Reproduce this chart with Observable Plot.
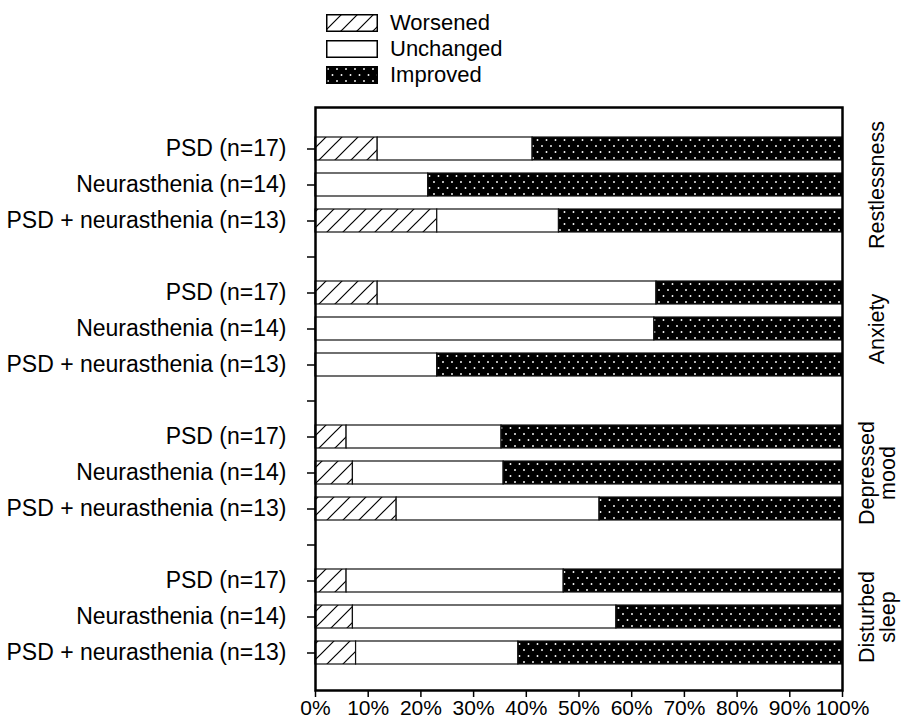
<!DOCTYPE html>
<html><head><meta charset="utf-8">
<script src="https://cdn.jsdelivr.net/npm/d3@7"></script>
<script src="https://cdn.jsdelivr.net/npm/@observablehq/plot@0.6"></script>
<style>
body{margin:0;background:#fff;font-family:"Liberation Sans",Arial,sans-serif;}
#legend{position:relative;height:95px;width:910px;}
.item{position:absolute;left:326px;display:flex;align-items:center;height:17px;font-size:22px;color:#000;white-space:nowrap;}
.item svg{margin-right:12px;display:block;}
</style></head><body>
<svg width="0" height="0" style="position:absolute">
<defs>
<pattern id="hatch" patternUnits="userSpaceOnUse" width="16" height="16">
<rect width="16" height="16" fill="white"/>
<path d="M-4,4 L4,-4 M0,16 L16,0 M12,20 L20,12" stroke="black" stroke-width="1.2"/>
</pattern>
<pattern id="dots" patternUnits="userSpaceOnUse" width="9" height="12">
<rect width="9" height="12" fill="black"/>
<circle cx="2" cy="3" r="0.95" fill="white"/>
<circle cx="6.5" cy="9" r="0.95" fill="white"/>
</pattern>
</defs></svg>
<div id="legend"></div>
<div id="chart"></div>
<script>
// ---- data ----
const symptoms = ["Restlessness", "Anxiety", "Depressed mood", "Disturbed sleep"];
const symptomLabels = ["Restlessness", "Anxiety", "Depressed\nmood", "Disturbed\nsleep"];
const groups = ["PSD (n=17)", "Neurasthenia (n=14)", "PSD + neurasthenia (n=13)"];
const statuses = ["Worsened", "Unchanged", "Improved"];
// percentages per symptom (rows) and group (columns)
const worsened  = [[11.8, 0.0, 23.1], [11.8, 0.0, 0.0], [5.9, 7.1, 15.4], [5.9, 7.1, 7.7]];
const unchanged = [[29.4, 21.4, 23.1], [52.9, 64.3, 23.1], [29.4, 28.6, 38.5], [41.2, 50.0, 30.8]];
const improved  = [[58.8, 78.6, 53.8], [35.3, 35.7, 76.9], [64.7, 64.3, 46.2], [52.9, 42.9, 61.5]];
const xTicks = [0, 10, 20, 30, 40, 50, 60, 70, 80, 90, 100];

// ---- table ----
const series = {Worsened: worsened, Unchanged: unchanged, Improved: improved};
const data = [];
const domain = [];
symptoms.forEach((s, i) => {
  groups.forEach((g, j) => {
    const key = s + "|" + g;
    domain.push(key);
    statuses.forEach(st => data.push({key, status: st, value: series[st][i][j]}));
  });
  if (i < symptoms.length - 1) domain.push("gap" + i);
});

// ---- legend ----
const fills = {Worsened: "url(#hatch)", Unchanged: "white", Improved: "url(#dots)"};
const legend = document.getElementById("legend");
statuses.forEach((st, i) => {
  const it = document.createElement("div");
  it.className = "item";
  it.style.top = (14 + i * 26) + "px";
  it.innerHTML = `<svg width="52" height="18"><rect x="0.75" y="0.75" width="50.5" height="16.5" fill="${fills[st]}" stroke="black" stroke-width="1.5"/></svg><span>${st}</span>`;
  legend.appendChild(it);
});

// ---- chart ----
const plot = Plot.plot({
  width: 910, height: 625,
  marginTop: 12, marginBottom: 30, marginLeft: 315, marginRight: 68,
  style: {fontFamily: "Liberation Sans, Arial, sans-serif", fontSize: "21px", color: "black", background: "white", overflow: "visible"},
  x: {domain: [0, 100]},
  y: {type: "band", domain, paddingInner: 0.367, paddingOuter: 0.70, align: 0.54},
  color: {type: "ordinal", domain: statuses, range: statuses.map(s => fills[s])},
  marks: [
    Plot.barX(data, Plot.stackX({
      x: "value", y: "key", fill: "status", order: statuses,
      stroke: "#111", strokeWidth: 1.2, filter: d => d.value > 0
    })),
    Plot.axisX({ticks: xTicks, tickFormat: d => d + "%", tickSize: 7, tickPadding: 3, strokeWidth: 1.5, label: null, fontSize: 21}),
    Plot.axisY({tickSize: 8, tickPadding: 21, strokeWidth: 1.5, label: null, fontSize: 23,
      tickFormat: k => k.startsWith("gap") ? "" : k.split("|")[1]}),
    Plot.text(symptoms, {
      y: s => s + "|" + groups[1],
      text: (s, i) => symptomLabels[i],
      frameAnchor: "right", dx: 35, rotate: -90,
      textAnchor: "middle", lineAnchor: "middle", fontSize: 21.5, fill: "black"
    }),
    Plot.frame({stroke: "black", strokeWidth: 2.5})
  ]
});
document.getElementById("chart").appendChild(plot);
</script>
</body></html>
